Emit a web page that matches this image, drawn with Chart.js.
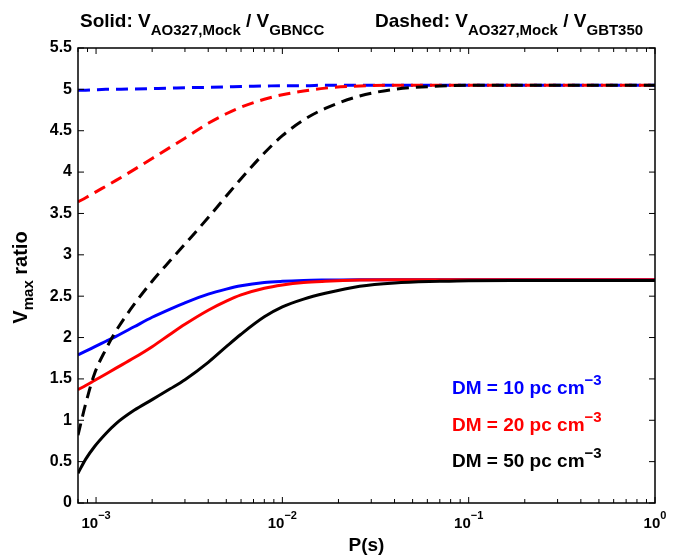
<!DOCTYPE html>
<html>
<head>
<meta charset="utf-8">
<script src="https://cdn.jsdelivr.net/npm/chart.js@4.4.1/dist/chart.umd.min.js"></script>
<style>
  html, body { margin: 0; padding: 0; background: #fff; }
  canvas { display: block; }
</style>
</head>
<body>
<canvas id="vmax-chart" width="685" height="556"></canvas>
<script>
// Périodes (s)
const periods = [0.0008, 0.00088, 0.00098, 0.00113, 0.00128, 0.0016, 0.002, 0.0025, 0.003, 0.004, 0.005, 0.006,
  0.008, 0.01, 0.013, 0.017, 0.026, 0.04, 0.07, 0.1, 0.2, 0.5, 1];

// Trait plein : V_AO327,Mock / V_GBNCC
const solidDm10 = [1.79, 1.835, 1.887, 1.955, 2.015, 2.13, 2.245, 2.345, 2.42, 2.525, 2.585, 2.625,
  2.665, 2.68, 2.69, 2.695, 2.70, 2.70, 2.70, 2.70, 2.70, 2.70, 2.70];
const solidDm20 = [1.37, 1.42, 1.48, 1.56, 1.63, 1.755, 1.89, 2.04, 2.16, 2.33, 2.44, 2.515,
  2.595, 2.635, 2.665, 2.68, 2.695, 2.70, 2.70, 2.70, 2.70, 2.70, 2.70];
const solidDm50 = [0.36, 0.53, 0.68, 0.84, 0.96, 1.12, 1.25, 1.38, 1.49, 1.70, 1.89, 2.04,
  2.25, 2.37, 2.465, 2.535, 2.62, 2.66, 2.68, 2.688, 2.69, 2.69, 2.69];

// Tirets : V_AO327,Mock / V_GBT350
const dashedDm10 = [4.99, 4.99, 4.995, 5.0, 5.0, 5.005, 5.01, 5.015, 5.02, 5.025, 5.03, 5.035,
  5.04, 5.045, 5.045, 5.05, 5.05, 5.05, 5.05, 5.05, 5.05, 5.05, 5.05];
const dashedDm20 = [3.64, 3.69, 3.75, 3.83, 3.90, 4.03, 4.165, 4.30, 4.41, 4.59, 4.705, 4.785,
  4.88, 4.935, 4.98, 5.015, 5.04, 5.05, 5.05, 5.05, 5.05, 5.05, 5.05];
const dashedDm50 = [0.82, 1.20, 1.56, 1.86, 2.08, 2.40, 2.68, 2.93, 3.13, 3.45, 3.71, 3.92,
  4.23, 4.44, 4.63, 4.77, 4.92, 5.00, 5.04, 5.05, 5.05, 5.05, 5.05];

// Graduations
const yTicks = [0, 0.5, 1, 1.5, 2, 2.5, 3, 3.5, 4, 4.5, 5, 5.5];
const xMajor = [0.001, 0.01, 0.1, 1];
const xExponents = ['\u22123', '\u22122', '\u22121', '0'];

// Légende
const dmLabels = ['DM = 10 pc cm', 'DM = 20 pc cm', 'DM = 50 pc cm'];
const dmColors = ['#0000ff', '#ff0000', '#000000'];

const fontFamily = '"Liberation Sans", Arial, Helvetica, sans-serif';
function boldFont(size) {
  return 'bold ' + size + 'px ' + fontFamily;
}

// Texte composé (indices / exposants), mesuré puis dessiné de gauche à droite
function richWidth(ctx, parts) {
  let w = 0;
  parts.forEach(p => {
    ctx.font = boldFont(p.size);
    w += ctx.measureText(p.text).width;
  });
  return w;
}
function drawRich(ctx, parts, x, y) {
  parts.forEach(p => {
    ctx.font = boldFont(p.size);
    ctx.fillText(p.text, x, y + (p.dy || 0));
    x += ctx.measureText(p.text).width;
  });
}

function series(values) {
  return values.map((v, i) => ({ x: periods[i], y: v }));
}

function lineSet(label, values, color, dashed) {
  return {
    label: label,
    data: series(values),
    borderColor: color,
    backgroundColor: color,
    borderWidth: 3,
    borderDash: dashed ? [12, 7] : [],
    borderJoinStyle: 'round',
    pointRadius: 0,
    fill: false,
    cubicInterpolationMode: 'monotone'
  };
}

// Cadre, graduations internes et textes façon Matlab
const matlabAxes = {
  id: 'matlabAxes',
  afterDraw: function (chart) {
    const ctx = chart.ctx;
    const area = chart.chartArea;
    const xs = chart.scales.x;
    const ys = chart.scales.y;

    ctx.save();
    ctx.strokeStyle = '#000';
    ctx.lineWidth = 1;
    ctx.beginPath();
    yTicks.forEach(v => {
      const py = ys.getPixelForValue(v);
      ctx.moveTo(area.left, py);
      ctx.lineTo(area.left + 6, py);
      ctx.moveTo(area.right, py);
      ctx.lineTo(area.right - 6, py);
    });
    for (let d = -4; d <= 0; d++) {
      for (let m = 1; m <= 9; m++) {
        const v = m * Math.pow(10, d);
        if (v < xs.min * 0.999 || v > xs.max * 1.001) continue;
        const px = xs.getPixelForValue(v);
        const len = m === 1 ? 6 : 4;
        ctx.moveTo(px, area.bottom);
        ctx.lineTo(px, area.bottom - len);
        ctx.moveTo(px, area.top);
        ctx.lineTo(px, area.top + len);
      }
    }
    ctx.stroke();

    ctx.lineWidth = 1.5;
    ctx.strokeRect(area.left, area.top, area.right - area.left, area.bottom - area.top);

    ctx.fillStyle = '#000';
    ctx.textAlign = 'left';
    ctx.textBaseline = 'alphabetic';

    // étiquettes de l'axe x : 10^n
    xMajor.forEach((v, i) => {
      const parts = [{ text: '10', size: 15 }, { text: xExponents[i], size: 11, dy: -9 }];
      const w = richWidth(ctx, parts);
      drawRich(ctx, parts, xs.getPixelForValue(v) - w / 2, 528);
    });

    // titre
    drawRich(ctx, [
      { text: 'Solid: V', size: 19 },
      { text: 'AO327,Mock', size: 15, dy: 8 },
      { text: ' / V', size: 19 },
      { text: 'GBNCC', size: 15, dy: 8 }
    ], 80, 27);
    drawRich(ctx, [
      { text: 'Dashed: V', size: 19 },
      { text: 'AO327,Mock', size: 15, dy: 8 },
      { text: ' / V', size: 19 },
      { text: 'GBT350', size: 15, dy: 8 }
    ], 375, 27);

    // titre de l'axe x
    ctx.font = boldFont(19);
    const xTitle = 'P(s)';
    ctx.fillText(xTitle, (area.left + area.right) / 2 - ctx.measureText(xTitle).width / 2, 551);

    // titre de l'axe y (tourné)
    const yParts = [
      { text: 'V', size: 20 },
      { text: 'max', size: 15, dy: 6 },
      { text: ' ratio', size: 20 }
    ];
    const yw = richWidth(ctx, yParts);
    ctx.save();
    ctx.translate(27, (area.top + area.bottom) / 2 + 2 + yw / 2);
    ctx.rotate(-Math.PI / 2);
    drawRich(ctx, yParts, 0, 0);
    ctx.restore();

    // légende colorée
    dmLabels.forEach((label, i) => {
      ctx.fillStyle = dmColors[i];
      drawRich(ctx, [
        { text: label, size: 19 },
        { text: '\u22123', size: 15, dy: -9 }
      ], 452, 394 + i * 36.5);
    });

    ctx.restore();
  }
};

const ctx = document.getElementById('vmax-chart');

new Chart(ctx, {
  type: 'line',
  data: {
    datasets: [
      lineSet('DM 50 dashed', dashedDm50, '#000000', true),
      lineSet('DM 50 solid', solidDm50, '#000000', false),
      lineSet('DM 20 dashed', dashedDm20, '#ff0000', true),
      lineSet('DM 20 solid', solidDm20, '#ff0000', false),
      lineSet('DM 10 dashed', dashedDm10, '#0000ff', true),
      lineSet('DM 10 solid', solidDm10, '#0000ff', false)
    ]
  },
  options: {
    responsive: false,
    animation: false,
    layout: {
      padding: { top: 48, right: 30, left: 0, bottom: 0 }
    },
    scales: {
      x: {
        type: 'logarithmic',
        min: 0.0008,
        max: 1,
        grid: { display: false, drawTicks: false },
        border: { display: false },
        ticks: { display: false },
        afterFit: function (scale) { scale.height = 53; }
      },
      y: {
        min: 0,
        max: 5.5,
        grid: { display: false, drawTicks: false },
        border: { display: false },
        ticks: {
          stepSize: 0.5,
          padding: 6,
          color: '#000',
          font: { family: fontFamily, size: 16, weight: 'bold' },
          callback: function (v) { return String(v); }
        },
        afterFit: function (scale) { scale.width = 78; }
      }
    },
    plugins: {
      legend: { display: false },
      tooltip: { enabled: false }
    }
  },
  plugins: [matlabAxes]
});
</script>
</body>
</html>
